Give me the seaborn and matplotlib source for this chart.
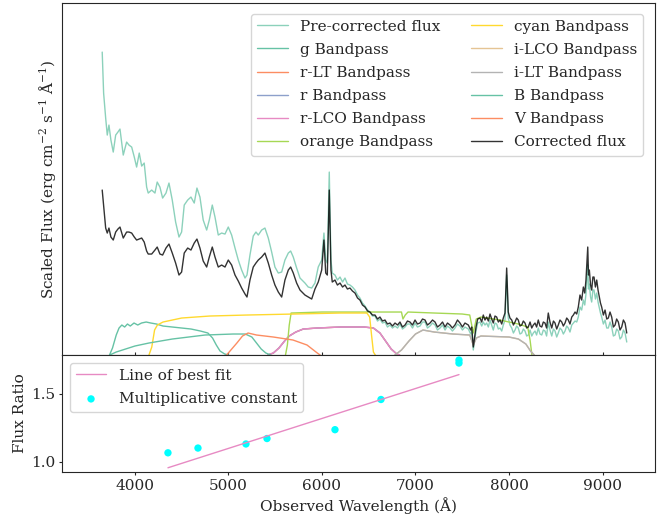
import matplotlib
matplotlib.use('Agg')
import matplotlib.pyplot as plt
from matplotlib.ticker import MultipleLocator
import pandas as pd
import seaborn as sns

# 光谱数据 (波长 Å, 任意单位的缩放流量), 分三段
wave_blue = [3650, 3665, 3687, 3704, 3722, 3743, 3768, 3794, 3818, 3840, 3875, 3911, 3936, 3965, 3993,
             4018, 4046, 4072, 4099, 4125, 4142, 4179, 4214, 4238, 4267, 4296, 4332, 4364, 4399, 4435,
             4471, 4499, 4527, 4564, 4599, 4634, 4663, 4695, 4730, 4767, 4795, 4827, 4856, 4891, 4927,
             4963, 4998, 5034, 5070, 5105, 5141, 5177, 5198, 5230, 5265, 5294, 5319, 5355, 5390, 5426,
             5462, 5497, 5533, 5569, 5604, 5640, 5665, 5693, 5729, 5765, 5818, 5853, 5890, 5925, 5960,
             5997, 6021, 6040, 6057, 6078, 6096, 6110]
pre_blue = [3.03, 2.62, 2.37, 2.20, 2.30, 2.15, 2.03, 2.20, 2.23, 2.26, 2.00, 2.13, 2.10, 2.08, 1.98,
            1.88, 2.02, 1.89, 1.92, 1.68, 1.62, 1.65, 1.62, 1.73, 1.68, 1.57, 1.62, 1.72, 1.55, 1.33,
            1.18, 1.23, 1.50, 1.55, 1.58, 1.52, 1.67, 1.58, 1.35, 1.25, 1.35, 1.50, 1.38, 1.20, 1.22,
            1.21, 1.28, 1.20, 1.07, 0.95, 0.85, 0.77, 0.80, 1.00, 1.19, 1.23, 1.20, 1.25, 1.27, 1.17,
            1.03, 0.88, 0.82, 0.83, 0.95, 1.02, 1.04, 0.98, 0.87, 0.77, 0.72, 0.68, 0.67, 0.72, 0.88,
            0.95, 1.22, 0.95, 0.92, 1.83, 0.95, 0.82]
cor_blue = [1.65, 1.50, 1.27, 1.22, 1.27, 1.18, 1.15, 1.23, 1.26, 1.28, 1.17, 1.23, 1.23, 1.22, 1.18,
            1.15, 1.16, 1.17, 1.13, 1.04, 1.01, 1.01, 1.05, 1.08, 1.01, 1.00, 1.07, 1.11, 1.02, 0.92,
            0.80, 0.83, 1.02, 1.07, 1.05, 1.12, 1.16, 1.07, 0.94, 0.88, 0.98, 1.08, 0.98, 0.88, 0.90,
            0.88, 0.95, 0.90, 0.80, 0.74, 0.67, 0.61, 0.58, 0.75, 0.88, 0.92, 0.95, 0.98, 1.02, 0.92,
            0.80, 0.70, 0.63, 0.58, 0.75, 0.85, 0.88, 0.82, 0.72, 0.65, 0.60, 0.58, 0.56, 0.66, 0.73,
            0.85, 1.15, 0.82, 0.80, 1.65, 0.85, 0.73]

wave_mid = [6139, 6165, 6193, 6220, 6246, 6272, 6299, 6326, 6353, 6380, 6406, 6433, 6460, 6487, 6513,
            6540, 6567, 6594, 6620, 6647, 6674, 6700, 6727, 6754, 6781, 6808, 6834, 6861, 6888, 6914,
            6941, 6968, 6995, 7021, 7048, 7075, 7102, 7128, 7155, 7182, 7209, 7235, 7262, 7289, 7316,
            7342, 7369, 7395, 7422, 7449, 7476, 7502, 7529, 7565, 7590, 7601, 7618]
pre_mid = [0.80, 0.75, 0.78, 0.73, 0.77, 0.71, 0.70, 0.68, 0.65, 0.60, 0.57, 0.52, 0.49, 0.45, 0.43,
           0.39, 0.39, 0.34, 0.36, 0.32, 0.33, 0.28, 0.30, 0.27, 0.29, 0.27, 0.31, 0.26, 0.28, 0.31,
           0.31, 0.27, 0.32, 0.28, 0.29, 0.33, 0.33, 0.27, 0.29, 0.32, 0.30, 0.25, 0.27, 0.30, 0.25,
           0.29, 0.27, 0.24, 0.27, 0.31, 0.29, 0.25, 0.28, 0.26, 0.21, 0.24, 0.05]
cor_mid = [0.75, 0.70, 0.72, 0.68, 0.70, 0.66, 0.67, 0.64, 0.62, 0.57, 0.55, 0.50, 0.48, 0.44, 0.43,
           0.40, 0.40, 0.36, 0.38, 0.34, 0.35, 0.31, 0.32, 0.29, 0.32, 0.30, 0.33, 0.28, 0.30, 0.34,
           0.33, 0.30, 0.35, 0.31, 0.32, 0.36, 0.35, 0.30, 0.32, 0.35, 0.33, 0.28, 0.30, 0.33, 0.28,
           0.32, 0.30, 0.27, 0.30, 0.35, 0.32, 0.28, 0.32, 0.30, 0.25, 0.28, 0.08]

wave_red = [7647, 7665, 7690, 7708, 7725, 7743, 7761, 7779, 7797, 7815, 7832, 7850, 7868, 7886, 7904,
            7922, 7939, 7957, 7975, 7992, 8010, 8029, 8047, 8064, 8082, 8099, 8117, 8136, 8153, 8171,
            8189, 8206, 8225, 8243, 8260, 8278, 8295, 8313, 8331, 8350, 8367, 8385, 8402, 8420, 8438,
            8457, 8475, 8492, 8510, 8527, 8545, 8564, 8581, 8599, 8617, 8634, 8652, 8671, 8688, 8706,
            8724, 8741, 8759, 8777, 8795, 8810, 8823, 8842, 8850, 8859, 8872, 8884, 8897, 8909, 8924,
            8938, 8952, 8966, 8978, 8991, 9009, 9027, 9045, 9062, 9080, 9098, 9116, 9134, 9151, 9169,
            9187, 9205, 9223, 9241, 9259]
pre_red = [0.24, 0.32, 0.33, 0.29, 0.33, 0.30, 0.32, 0.28, 0.35, 0.30, 0.25, 0.32, 0.31, 0.26, 0.27,
           0.24, 0.30, 0.35, 0.80, 0.37, 0.30, 0.27, 0.22, 0.25, 0.29, 0.27, 0.21, 0.22, 0.26, 0.24,
           0.19, 0.20, 0.25, 0.19, 0.22, 0.24, 0.20, 0.27, 0.21, 0.20, 0.25, 0.24, 0.19, 0.33, 0.25,
           0.19, 0.26, 0.24, 0.18, 0.22, 0.27, 0.25, 0.21, 0.24, 0.29, 0.27, 0.23, 0.30, 0.32, 0.34,
           0.33, 0.38, 0.48, 0.45, 0.55, 0.50, 0.61, 0.90, 0.66, 0.71, 0.58, 0.53, 0.65, 0.65, 0.56,
           0.62, 0.53, 0.47, 0.42, 0.38, 0.31, 0.35, 0.27, 0.27, 0.33, 0.28, 0.19, 0.20, 0.26, 0.24,
           0.16, 0.18, 0.25, 0.22, 0.13]
cor_red = [0.28, 0.36, 0.37, 0.33, 0.40, 0.35, 0.38, 0.34, 0.41, 0.36, 0.32, 0.39, 0.38, 0.33, 0.35,
           0.31, 0.37, 0.42, 0.87, 0.43, 0.37, 0.35, 0.30, 0.33, 0.37, 0.35, 0.29, 0.30, 0.34, 0.32,
           0.27, 0.28, 0.33, 0.27, 0.30, 0.32, 0.28, 0.35, 0.29, 0.28, 0.33, 0.32, 0.27, 0.42, 0.33,
           0.27, 0.34, 0.32, 0.26, 0.30, 0.35, 0.33, 0.29, 0.32, 0.37, 0.35, 0.31, 0.38, 0.40, 0.43,
           0.41, 0.48, 0.60, 0.55, 0.68, 0.62, 0.75, 1.08, 0.80, 0.85, 0.70, 0.65, 0.78, 0.78, 0.68,
           0.75, 0.65, 0.58, 0.52, 0.48, 0.40, 0.45, 0.36, 0.37, 0.43, 0.38, 0.28, 0.30, 0.36, 0.33,
           0.25, 0.28, 0.35, 0.32, 0.22]

# 滤光片透过率曲线 (已缩放)
g_wave = [3728, 3760, 3800, 3830, 3860, 3890, 3920, 3950, 3990, 4030, 4070, 4120, 4170, 4230,
          4300, 4400, 4500, 4600, 4700, 4780, 4830, 4870, 4910, 4960, 5000]
g_trans = [0.0, 0.07, 0.20, 0.27, 0.30, 0.28, 0.31, 0.29, 0.32, 0.30, 0.32, 0.33, 0.32, 0.31,
           0.29, 0.28, 0.27, 0.26, 0.24, 0.22, 0.17, 0.10, 0.04, 0.01, 0.0]
r_wave = [5420, 5480, 5540, 5600, 5650, 5720, 5800, 5950, 6200, 6450, 6550, 6620, 6680, 6740, 6800, 6830]
r_trans = [0.0, 0.02, 0.07, 0.14, 0.19, 0.23, 0.26, 0.27, 0.28, 0.28, 0.27, 0.22, 0.14, 0.06, 0.01, 0.0]
orange_wave = [5610, 5630, 5650, 5670, 6000, 6500, 6850, 6866, 6890, 6920, 7200, 7500, 7580,
               7618, 7650, 7700, 7900, 8100, 8200, 8225, 8245]
orange_trans = [0.0, 0.10, 0.30, 0.42, 0.43, 0.43, 0.43, 0.36, 0.40, 0.43, 0.42, 0.41, 0.40,
                0.22, 0.36, 0.38, 0.35, 0.31, 0.28, 0.15, 0.0]
cyan_wave = [4150, 4180, 4210, 4240, 4300, 4500, 4800, 5200, 5700, 6200, 6480, 6510, 6530, 6550, 6570]
cyan_trans = [0.0, 0.08, 0.25, 0.30, 0.33, 0.37, 0.39, 0.40, 0.41, 0.42, 0.42, 0.38, 0.20, 0.03, 0.0]
i_wave = [6780, 6850, 6930, 7000, 7080, 7200, 7400, 7580, 7618, 7650, 7700, 8000, 8100, 8180, 8230, 8270]
i_trans = [0.0, 0.05, 0.14, 0.21, 0.25, 0.23, 0.21, 0.20, 0.10, 0.17, 0.19, 0.18, 0.16, 0.11, 0.04, 0.0]
B_wave = [3730, 3800, 3900, 4000, 4150, 4400, 4750, 5050, 5180, 5250, 5300, 5350, 5400, 5450]
B_trans = [0.0, 0.03, 0.06, 0.09, 0.12, 0.16, 0.20, 0.21, 0.21, 0.18, 0.12, 0.06, 0.02, 0.0]
V_wave = [4980, 5090, 5150, 5210, 5300, 5480, 5690, 5840, 5950, 5980]
V_trans = [0.0, 0.12, 0.19, 0.22, 0.20, 0.18, 0.15, 0.10, 0.02, 0.0]

# 流量比
ratio_wave = [4353, 4674, 5187, 5412, 6139, 6631, 7465, 7465]
ratio_val = [1.065, 1.10, 1.13, 1.17, 1.235, 1.457, 1.725, 1.747]
fit_wave = [4353, 7465]
fit_val = [0.955, 1.64]

sns.set_style("ticks")
plt.rcParams['font.family'] = ['DejaVu Serif']
plt.rcParams['mathtext.fontset'] = 'dejavuserif'
plt.rcParams['font.size'] = 11

pal = sns.color_palette("Set2")

fig, (ax1, ax2) = plt.subplots(2, 1, figsize=(6.71, 5.16), dpi=100, sharex=True,
                               gridspec_kw={'height_ratios': [352, 117], 'hspace': 0})
fig.subplots_adjust(left=0.0924, right=0.976, top=0.994, bottom=0.0853)

spec = pd.DataFrame({'wave': wave_blue + wave_mid + wave_red,
                     'pre': pre_blue + pre_mid + pre_red,
                     'cor': cor_blue + cor_mid + cor_red})

sns.lineplot(x='wave', y='pre', data=spec, ax=ax1, color=pal[0], alpha=0.75, lw=1,
             label='Pre-corrected flux', estimator=None, sort=False)

bands = [
    ('g Bandpass', g_wave, g_trans, pal[0]),
    ('r-LT Bandpass', r_wave, r_trans, pal[1]),
    ('r Bandpass', r_wave, r_trans, pal[2]),
    ('r-LCO Bandpass', r_wave, r_trans, pal[3]),
    ('orange Bandpass', orange_wave, orange_trans, pal[4]),
    ('cyan Bandpass', cyan_wave, cyan_trans, pal[5]),
    ('i-LCO Bandpass', i_wave, i_trans, pal[6]),
    ('i-LT Bandpass', i_wave, i_trans, pal[7]),
    ('B Bandpass', B_wave, B_trans, pal[0]),
    ('V Bandpass', V_wave, V_trans, pal[1]),
]
for name, bw, bt, col in bands:
    sns.lineplot(x=bw, y=bt, ax=ax1, color=col, lw=1, label=name, estimator=None, sort=False)

sns.lineplot(x='wave', y='cor', data=spec, ax=ax1, color='k', alpha=0.8, lw=1,
             label='Corrected flux', estimator=None, sort=False)

ax1.set_ylim(0, 3.52)
ax1.set_yticks([])
ax1.set_ylabel(r'Scaled Flux (erg cm$^{-2}$ s$^{-1}$ Å$^{-1}$)', labelpad=3)
ax1.set_xlabel('')
ax1.tick_params(axis='x', direction='in', length=2, labelbottom=False)
ax1.legend(loc='upper right', ncol=2, labelspacing=0.6, bbox_to_anchor=(0.993, 0.992))

sns.lineplot(x=fit_wave, y=fit_val, ax=ax2, color=pal[3], lw=1, label='Line of best fit')
sns.scatterplot(x=ratio_wave, y=ratio_val, ax=ax2, color='cyan', s=28, edgecolor='none',
                label='Multiplicative constant')
ax2.set_xlim(3220, 9560)
ax2.set_ylim(0.924, 1.784)
ax2.yaxis.set_major_locator(MultipleLocator(0.5))
ax2.tick_params(axis='both', length=2.5, pad=2.5)
ax2.set_xlabel('Observed Wavelength (Å)', labelpad=3)
ax2.set_ylabel('Flux Ratio', labelpad=3)
ax2.legend(loc='upper left', labelspacing=0.6)

plt.savefig('out.png', dpi=100)
plt.close()
